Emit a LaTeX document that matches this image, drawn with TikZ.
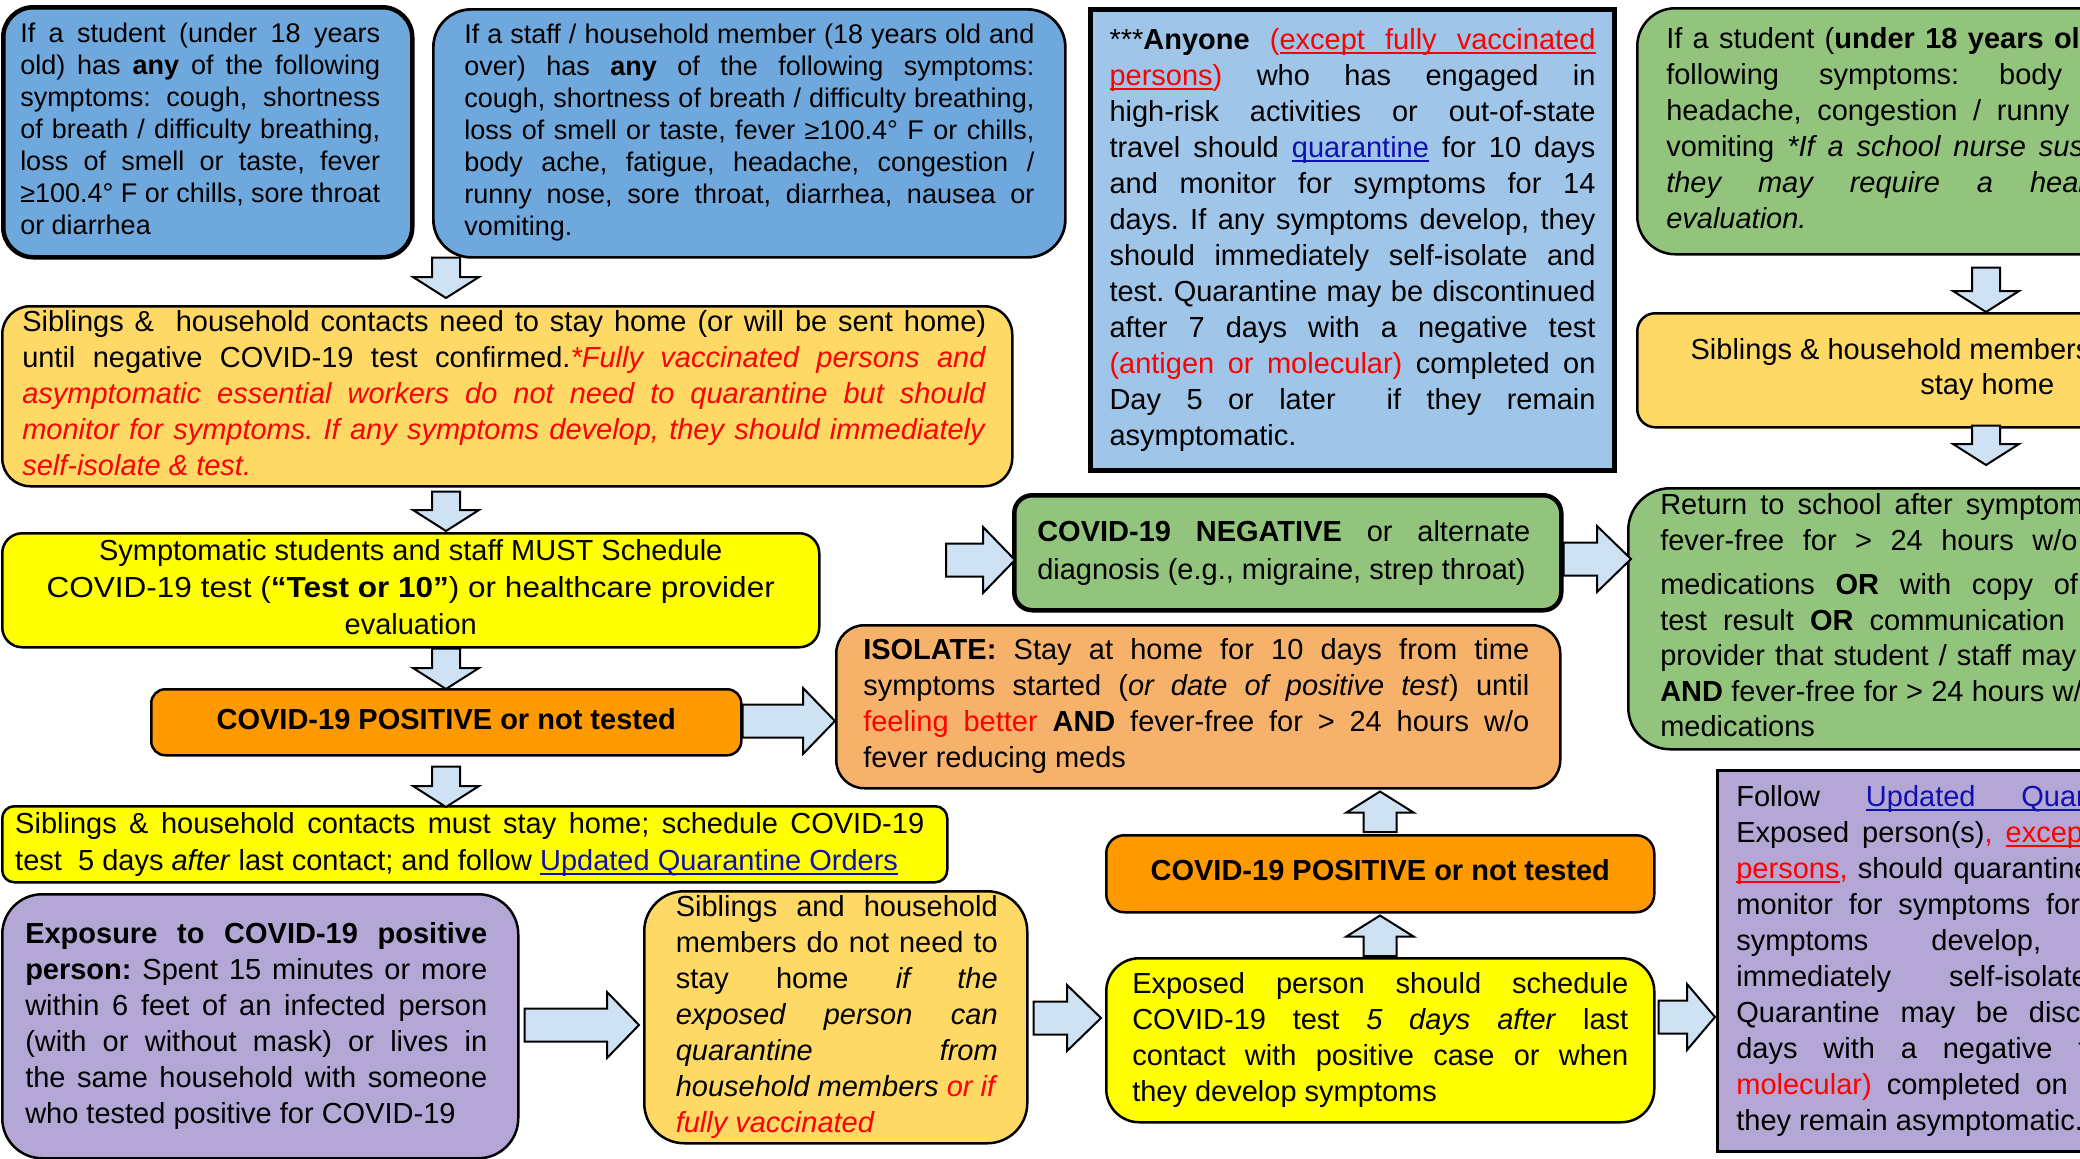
\documentclass[tikz,border=0pt]{standalone}
\usepackage{fontspec}
\setmainfont{Liberation Sans}
\usetikzlibrary{calc}
\definecolor{cBlue}{HTML}{6FA8DC}
\definecolor{cLBlue}{HTML}{9FC5E8}
\definecolor{cGreen}{HTML}{93C47D}
\definecolor{cLOr}{HTML}{FFD966}
\definecolor{cYel}{HTML}{FFFF00}
\definecolor{cOr}{HTML}{FF9900}
\definecolor{cIso}{HTML}{F6B26B}
\definecolor{cPur}{HTML}{B4A7D6}
\definecolor{cArr}{HTML}{CFE2F3}
\definecolor{cRed}{HTML}{FF0000}
\definecolor{cLink}{HTML}{1010B0}
\newdimen\tsh
\newcommand\fs[2]{\fontsize{#1pt}{#2pt}\selectfont}
\newcommand\tb[3]{\vbox{\frenchspacing\hsize=#1pt\relax\tsh=#2pt\relax#3}}
\newcommand\jl[1]{\moveright\tsh\hbox to\hsize{\strut#1}}
\newcommand\lastl[1]{\moveright\tsh\hbox{\strut#1}}
\newcommand\ctl[1]{\moveright\tsh\hbox to\hsize{\hfil\strut#1\hfil}}
\newcommand\rd[1]{{\color{cRed}#1}}
\newcommand\lnk[1]{{\color{cLink}#1}}
% underlined word and underlined stretchable space
\newcommand\ulw[1]{{\setbox0\hbox{#1}\rlap{\vrule height -2.5pt depth 4.5pt width \wd0}\box0}}
\newcommand\uls{\leaders\hrule height -2.5pt depth 4.5pt\hskip\fontdimen2\font plus\fontdimen3\font minus\fontdimen4\font\relax}
\tikzset{
  bx/.style={draw=black, line width=2.5pt, inner sep=0pt, anchor=north west, rounded corners=#1},
  bx/.default=20pt,
  blockarrow/.style={fill=cArr, draw=black, line width=2pt, line join=miter}
}
% down arrow: x, from, to, gap top, gap bottom
\newcommand\dnarrow[5]{%
 \path[blockarrow] let \p1=(#1,0 |- #2), \p2=(#1,0 |- #3) in
  ({\x1-14pt},{\y1-(#4pt)}) -- ({\x1+14pt},{\y1-(#4pt)}) -- ({\x1+14pt},{\y2+(#5pt)+21pt}) -- ({\x1+33pt},{\y2+(#5pt)+21pt}) -- ({\x1},{\y2+(#5pt)}) -- ({\x1-33pt},{\y2+(#5pt)+21pt}) -- ({\x1-14pt},{\y2+(#5pt)+21pt}) -- cycle;}
% up arrow: x, from (lower node), to (upper node), gap from, gap to
\newcommand\uparr[5]{%
 \path[blockarrow] let \p1=(#1,0 |- #2), \p2=(#1,0 |- #3) in
  ({\x1-16.5pt},{\y1+(#4pt)}) -- ({\x1+16.5pt},{\y1+(#4pt)}) -- ({\x1+16.5pt},{\y2-(#5pt)-21pt}) -- ({\x1+33.5pt},{\y2-(#5pt)-21pt}) -- ({\x1},{\y2-(#5pt)}) -- ({\x1-33.5pt},{\y2-(#5pt)-21pt}) -- ({\x1-16.5pt},{\y2-(#5pt)-21pt}) -- cycle;}
% right arrow: y, from, to, gap from, gap to, head length
\newcommand\rtarr[6]{%
 \path[blockarrow] let \p1=(#2 |- 0,#1), \p2=(#3 |- 0,#1) in
  ({\x1+(#4pt)},{\y1+16.5pt}) -- ({\x2-(#5pt)-#6pt},{\y1+16.5pt}) -- ({\x2-(#5pt)-#6pt},{\y1+33pt}) -- ({\x2-(#5pt)},{\y1}) -- ({\x2-(#5pt)-#6pt},{\y1-33pt}) -- ({\x2-(#5pt)-#6pt},{\y1-16.5pt}) -- ({\x1+(#4pt)},{\y1-16.5pt}) -- cycle;}
\begin{document}
\frenchspacing
\begin{tikzpicture}[x=1pt,y=-1pt]
\useasboundingbox (0,0) rectangle (2080,1159);
\clip (0,0) rectangle (2080,1159);
\fill[white] (0,0) rectangle (2080,1159);

% top-left student box
\node[bx=30pt, line width=4.5pt, fill=cBlue, minimum width=409pt, minimum height=250pt, font=\fs{27}{32}] (stu) at (1,5) {\tb{360}{-15}{%
\jl{If a student (under 18 years}
\jl{old) has \textbf{any} of the following}
\jl{symptoms: cough, shortness}
\jl{of breath / difficulty breathing,}
\jl{loss of smell or taste, fever}
\jl{≥100.4° F or chills, sore throat}
\lastl{or diarrhea}}};

% staff box
\node[bx=38pt, line width=2.7pt, fill=cBlue, minimum width=632pt, minimum height=248pt, font=\fs{27}{32}] (stf) at (432,8) {\tb{570}{0}{%
\jl{If a staff / household member (18 years old and}
\jl{over) has \textbf{any} of the following symptoms:}
\jl{cough, shortness of breath / difficulty breathing,}
\jl{loss of smell or taste, fever ≥100.4° F or chills,}
\jl{body ache, fatigue, headache, congestion /}
\jl{runny nose, sore throat, diarrhea, nausea or}
\lastl{vomiting.}}};

% anyone box
\node[bx=0pt, line width=5pt, fill=cLBlue, minimum width=524pt, minimum height=461pt, font=\fs{29}{36}] (any) at (1088,7) {\tb{486}{0}{%
\jl{***\textbf{Anyone} \rd{(\ulw{except}\uls\ulw{fully}\uls\ulw{vaccinated}}}
\jl{\rd{\ulw{persons})} who has engaged in}
\jl{high-risk activities or out-of-state}
\jl{travel should \lnk{\ulw{quarantine}} for 10 days}
\jl{and monitor for symptoms for 14}
\jl{days. If any symptoms develop, they}
\jl{should immediately self-isolate and}
\jl{test. Quarantine may be discontinued}
\jl{after 7 days with a negative test}
\jl{\rd{(antigen or molecular)} completed on}
\jl{Day 5 or later \ if they remain}
\lastl{asymptomatic.}}};

% green top right
\node[bx=38pt, fill=cGreen, minimum width=700pt, minimum height=246pt, font=\fs{29}{36}] (gtop) at (1636,7) {\tb{642}{0}{%
\jl{If a student (\textbf{under 18 years old}) has one of the}
\jl{following symptoms: body ache, fatigue,}
\jl{headache, congestion / runny nose, nausea or}
\jl{vomiting \textit{*If a school nurse suspects COVID-19,}}
\jl{\textit{they may require a healthcare provider}}
\lastl{\textit{evaluation.}}}};

% light orange top right
\node[bx=18pt, fill=cLOr, minimum width=700pt, minimum height=114pt, font=\fs{29}{35}] (lotop) at (1636,312) {\tb{660}{0}{%
\ctl{Siblings \& household members do not need to}
\ctl{stay home}}};

% return to school
\node[bx=42pt, fill=cGreen, minimum width=694pt, minimum height=261pt, font=\fs{29}{35.5}] (ret) at (1627,487) {\tb{630}{0}{%
\jl{Return to school after symptoms improve \textbf{AND}}
\jl{fever-free for > 24 hours w/o fever reducing}
\vskip 9pt
\jl{medications \textbf{OR} with copy of negative PCR}
\jl{test result \textbf{OR} communication from healthcare}
\jl{provider that student / staff may return to school}
\jl{\textbf{AND} fever-free for > 24 hours w/o fever reducing}
\lastl{medications}}};

% purple right
\node[bx=0pt, line width=2.7pt, fill=cPur, minimum width=609pt, minimum height=381pt, font=\fs{29}{36}] (purR) at (1716,769) {\tb{571}{0}{%
\jl{Follow \lnk{\ulw{Updated}\uls\ulw{Quarantine}\uls\ulw{Orders}}.}
\jl{Exposed person(s)\rd{, \ulw{except}\uls\ulw{fully}\uls\ulw{vaccinated}}}
\jl{\rd{\ulw{persons},} should quarantine for 10 days and}
\jl{monitor for symptoms for 14 days. If any}
\jl{symptoms develop, they should}
\jl{immediately self-isolate and test.}
\jl{Quarantine may be discontinued after 7}
\jl{days with a negative test \rd{(antigen or}}
\jl{\rd{molecular)} completed on Day 5 or later if}
\lastl{they remain asymptomatic.}}};

% siblings contacts
\node[bx=28pt, fill=cLOr, minimum width=1010pt, minimum height=178pt, font=\fs{29}{36}] (sib) at (1,305) {\tb{964}{-6}{%
\jl{Siblings \& \ household contacts need to stay home (or will be sent home)}
\jl{until negative COVID-19 test confirmed.\rd{\textit{*Fully vaccinated persons and}}}
\jl{\rd{\textit{asymptomatic essential workers do not need to quarantine but should}}}
\jl{\rd{\textit{monitor for symptoms. If any symptoms develop, they should immediately}}}
\lastl{\rd{\textit{self-isolate \& test.}}}}};

% symptomatic
\node[bx=20pt, fill=cYel, minimum width=817pt, minimum height=114pt, font=\fs{29}{37}] (sym) at (1,532) {\tb{780}{0}{%
\ctl{Symptomatic students and staff MUST Schedule}
\ctl{\scalebox{1.087}[1]{COVID-19 test (\textbf{“Test or 10”}) or healthcare provider}}
\ctl{evaluation}}};

% positive 1
\node[bx=14pt, fill=cOr, minimum width=590pt, minimum height=66pt, font=\fs{29}{36}] (pos1) at (150,688) {\tb{560}{0}{%
\ctl{\textbf{COVID-19 POSITIVE or not tested}}}};

% siblings must stay home
\node[bx=12pt, fill=cYel, minimum width=945pt, minimum height=76pt, font=\fs{29}{37}] (sib2) at (1,805) {\tb{909}{-10}{%
\jl{Siblings \& household contacts must stay home; schedule COVID-19}
\lastl{test \ 5 days \textit{after} last contact; and follow \lnk{\ulw{Updated}\uls\ulw{Quarantine}\uls\ulw{Orders}}}}};

% exposure
\node[bx=40pt, fill=cPur, minimum width=516pt, minimum height=264pt, font=\fs{29}{36}] (exp) at (1,893) {\tb{462}{-8}{%
\jl{\textbf{Exposure to COVID-19 positive}}
\jl{\textbf{person:} Spent 15 minutes or more}
\jl{within 6 feet of an infected person}
\jl{(with or without mask) or lives in}
\jl{the same household with someone}
\lastl{who tested positive for COVID-19}}};

% siblings do not need
\node[bx=40pt, fill=cLOr, minimum width=383pt, minimum height=247pt, font=\fs{29}{36}] (lo2) at (643,890) {\tb{322}{2}{%
\jl{Siblings and household}
\jl{members do not need to}
\jl{stay home \textit{if the}}
\jl{\textit{exposed person can}}
\jl{\textit{quarantine from}}
\jl{\textit{household members} \rd{\textit{or if}}}
\lastl{\rd{\textit{fully vaccinated}}}}};

% exposed person should schedule
\node[bx=33pt, fill=cYel, minimum width=548pt, minimum height=164pt, font=\fs{29}{36}] (expd) at (1105,957) {\tb{496}{0}{%
\jl{Exposed person should schedule}
\jl{COVID-19 test \textit{5 days after} last}
\jl{contact with positive case or when}
\lastl{they develop symptoms}}};

% positive 2
\node[bx=18pt, fill=cOr, minimum width=548pt, minimum height=77pt, font=\fs{29}{36}] (pos2) at (1105,834) {\tb{520}{0}{%
\ctl{\textbf{COVID-19 POSITIVE or not tested}}}};

% isolate
\node[bx=28pt, fill=cIso, minimum width=724pt, minimum height=163pt, font=\fs{29}{36}] (iso) at (835,624) {\tb{666}{-4}{%
\jl{\textbf{ISOLATE:} Stay at home for 10 days from time}
\jl{symptoms started (\textit{or date of positive test}) until}
\jl{\rd{feeling better} \textbf{AND} fever-free for > 24 hours w/o}
\lastl{fever reducing meds}}};

% negative
\node[bx=18pt, line width=4.5pt, fill=cGreen, minimum width=547pt, minimum height=115pt, font=\fs{29}{38}] (neg) at (1012,493) {\tb{493}{-8}{%
\jl{\textbf{COVID-19 NEGATIVE} or alternate}
\lastl{diagnosis (e.g., migraine, strep throat)}}};

\coordinate (negsrc) at (946,560);

% arrows
\dnarrow{446}{stf.south}{sib.north}{-1}{7}
\dnarrow{446}{sib.south}{sym.north}{4}{1}
\dnarrow{446}{sym.south}{pos1.north}{0}{-1}
\dnarrow{446}{pos1.south}{sib2.north}{10}{-2}
\dnarrow{1986}{gtop.south}{lotop.north}{12}{0}
\dnarrow{1986}{lotop.south}{ret.north}{-3}{22}
\uparr{1380}{expd.north}{pos2.south}{1}{2}
\uparr{1380}{pos2.north}{iso.south}{2}{2}
\rtarr{721}{pos1.east}{iso.west}{0}{0}{32}
\rtarr{560}{negsrc}{neg.west}{0}{-3}{32}
\rtarr{559}{neg.east}{ret.west}{0}{-4}{34}
\rtarr{1025}{exp.east}{lo2.west}{5}{4}{32}
\rtarr{1018}{lo2.east}{expd.west}{5}{4}{34}
\rtarr{1017}{expd.east}{purR.west}{3}{1}{28}
\end{tikzpicture}
\end{document}
